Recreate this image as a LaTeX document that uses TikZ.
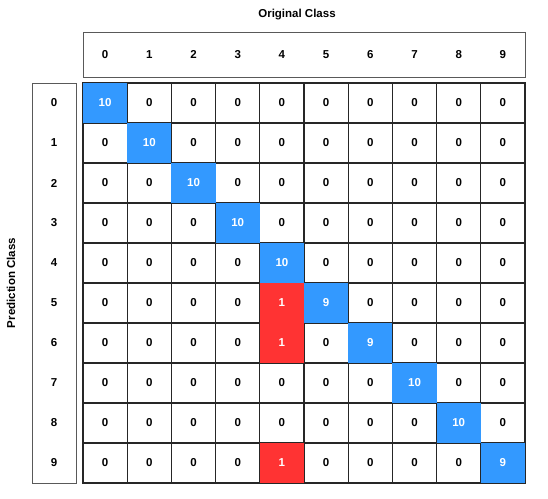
\documentclass[tikz,border=0pt]{standalone}
\usepackage{fontspec}
\setmainfont{Liberation Sans}
\definecolor{hitblue}{RGB}{51,153,255}
\definecolor{missred}{RGB}{255,51,51}
\begin{document}
\begin{tikzpicture}
  [x=1bp,y=-1bp,every node/.style={font=\fontsize{11.5bp}{13bp}\selectfont\bfseries}]
  \tikzstyle{cell} = [draw=black!85,line width=1.3bp,minimum width=44.2bp,minimum height=40bp,inner sep=0pt]
  \tikzstyle{hit} = [cell,draw=none,fill=hitblue,text=white]
  \tikzstyle{miss} = [cell,draw=none,fill=missred,text=white]
  \tikzstyle{frame} = [draw=black!65,line width=.8bp,inner sep=0pt]
  \useasboundingbox (0,0) rectangle (548,499);
  \node (orig) at (297,15) {Original Class};
  \node[rotate=90] (pred) at (11,283) {Prediction Class};
  \node[frame,minimum width=442bp,minimum height=45bp] (head) at (304,54.5) {};
  \node[frame,minimum width=44bp,minimum height=400bp] (side) at (54,283) {};
  \foreach \c in {0,...,9}
   \node (h\c) at ({83+44.2*(\c+.5)},54.5) {\c};
  \foreach \r in {0,...,9}
   \node (p\r) at (54,{83+40*(\r+.5)}) {\r};
  \foreach \r in {0,...,9}
   \foreach \c in {0,...,9} {
    \pgfmathtruncatemacro\covered{(\r==\c)||(\c==4&&(\r==5||\r==6||\r==9))}
    \node[cell] (c\r\c) at ({83+44.2*(\c+.5)},{83+40*(\r+.5)}) {\ifnum\covered=0 0\fi};
   }
  \foreach \r /\c /\v in {0/0/10,1/1/10,2/2/10,3/3/10,4/4/10,5/5/9,6/6/9,7/7/10,8/8/10,9/9/9}
   \node[hit] at (c\r\c) {\v};
  \foreach \r /\c /\v in {5/4/1,6/4/1,9/4/1}
   \node[miss] at (c\r\c) {\v};
\end{tikzpicture}
\end{document}
